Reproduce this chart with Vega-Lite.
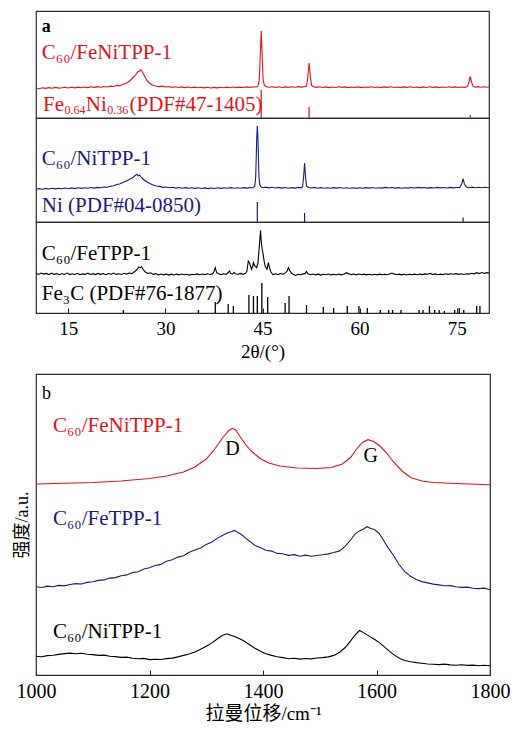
{
  "$schema": "https://vega.github.io/schema/vega-lite/v6.json",
  "padding": {"left": 12, "top": 10, "right": 24, "bottom": 0},
  "background": "white",
  "config": {
    "font": "Liberation Serif",
    "view": {"stroke": "#2a2a2a", "strokeWidth": 1.2},
    "axis": {"grid": false, "domain": false, "tickColor": "#222", "labelColor": "#000", "titleColor": "#000", "labelFont": "Liberation Serif", "titleFont": "Liberation Serif, Noto Sans CJK SC", "titleFontWeight": "normal", "labelFlush": false, "format": "d"}
  },
  "datasets": {
    "feni": [
      {"t":10,"i":30},{"t":10.5,"i":29.3},{"t":11,"i":30.2},{"t":11.5,"i":29.6},{"t":12,"i":30.4},{"t":12.5,"i":29.8},{"t":13,"i":30.6},{"t":13.5,"i":29.9},{"t":14,"i":30.3},{"t":14.5,"i":30.8},{"t":15,"i":30},{"t":15.5,"i":30.7},{"t":16,"i":30.1},{"t":16.5,"i":30.9},{"t":17,"i":30.3},{"t":17.5,"i":31},{"t":18,"i":30.4},{"t":18.5,"i":31.2},{"t":19,"i":30.6},{"t":19.5,"i":31.4},{"t":20,"i":30.8},{"t":20.5,"i":31.5},{"t":21,"i":31},{"t":21.5,"i":31.9},{"t":22,"i":31.5},{"t":22.5,"i":32.6},{"t":23,"i":32.3},{"t":23.5,"i":33.8},{"t":24,"i":35},{"t":24.5,"i":37.2},{"t":25,"i":40.5},{"t":25.4,"i":43},{"t":25.7,"i":46},{"t":26,"i":47},{"t":26.2,"i":48.3},{"t":26.4,"i":46.5},{"t":26.6,"i":44},{"t":26.9,"i":40.5},{"t":27.2,"i":37},{"t":27.6,"i":34.5},{"t":28,"i":33},{"t":28.5,"i":32},{"t":29,"i":31.4},{"t":29.5,"i":31.9},{"t":30,"i":31},{"t":30.5,"i":31.5},{"t":31,"i":30.6},{"t":31.5,"i":31.2},{"t":32,"i":30.5},{"t":32.5,"i":31.1},{"t":33,"i":30.4},{"t":33.5,"i":31},{"t":34,"i":30.3},{"t":34.5,"i":30.9},{"t":35,"i":30.2},{"t":35.5,"i":30.8},{"t":36,"i":30.1},{"t":36.5,"i":30.7},{"t":37,"i":30},{"t":37.5,"i":30.6},{"t":38,"i":30.1},{"t":38.5,"i":30.8},{"t":39,"i":30.2},{"t":39.5,"i":30.9},{"t":40,"i":30.3},{"t":40.5,"i":31},{"t":41,"i":30.4},{"t":41.5,"i":30.9},{"t":42,"i":30.5},{"t":42.5,"i":31.1},{"t":43,"i":30.6},{"t":43.5,"i":31.3},{"t":44,"i":31},{"t":44.3,"i":31.8},{"t":44.5,"i":38},{"t":44.65,"i":62},{"t":44.8,"i":87},{"t":44.95,"i":62},{"t":45.1,"i":38},{"t":45.3,"i":32.5},{"t":45.6,"i":31.2},{"t":46,"i":30.7},{"t":46.5,"i":31.3},{"t":47,"i":30.6},{"t":47.5,"i":31.2},{"t":48,"i":30.5},{"t":48.5,"i":31.1},{"t":49,"i":30.6},{"t":49.5,"i":31.2},{"t":50,"i":30.8},{"t":50.5,"i":31.4},{"t":51,"i":30.9},{"t":51.5,"i":31.4},{"t":51.8,"i":32},{"t":52,"i":41},{"t":52.2,"i":55},{"t":52.4,"i":41},{"t":52.6,"i":32.5},{"t":52.9,"i":31.2},{"t":53.3,"i":30.6},{"t":53.8,"i":31.2},{"t":54.3,"i":30.5},{"t":54.8,"i":31.1},{"t":55.3,"i":30.4},{"t":55.8,"i":31},{"t":56.3,"i":30.5},{"t":56.8,"i":31.2},{"t":57.3,"i":30.6},{"t":57.8,"i":31.1},{"t":58.3,"i":30.4},{"t":58.8,"i":31},{"t":59.3,"i":30.5},{"t":59.8,"i":31.1},{"t":60.3,"i":30.4},{"t":60.8,"i":31},{"t":61.3,"i":30.6},{"t":61.8,"i":31.2},{"t":62.3,"i":30.5},{"t":62.8,"i":31},{"t":63.3,"i":30.4},{"t":63.8,"i":31.1},{"t":64.3,"i":30.6},{"t":64.8,"i":31.2},{"t":65.3,"i":30.5},{"t":65.8,"i":31},{"t":66.3,"i":30.4},{"t":66.8,"i":31.1},{"t":67.3,"i":30.6},{"t":67.8,"i":31.2},{"t":68.3,"i":30.5},{"t":68.8,"i":31},{"t":69.3,"i":30.4},{"t":69.8,"i":31.1},{"t":70.3,"i":30.5},{"t":70.8,"i":31.2},{"t":71.3,"i":30.6},{"t":71.8,"i":31.1},{"t":72.3,"i":30.4},{"t":72.8,"i":31},{"t":73.3,"i":30.5},{"t":73.8,"i":31.2},{"t":74.3,"i":30.6},{"t":74.8,"i":31.1},{"t":75.3,"i":30.5},{"t":75.8,"i":31},{"t":76.3,"i":30.6},{"t":76.7,"i":31.8},{"t":76.9,"i":36},{"t":77.1,"i":41.5},{"t":77.3,"i":36},{"t":77.5,"i":32},{"t":77.8,"i":30.8},{"t":78.3,"i":31.4},{"t":78.8,"i":30.7},{"t":79.3,"i":31.3},{"t":79.7,"i":30.8},{"t":80,"i":31.2}
    ],
    "ni": [
      {"t":10,"i":32.7},{"t":10.5,"i":33.4},{"t":11,"i":32.8},{"t":11.5,"i":33.6},{"t":12,"i":33},{"t":12.5,"i":33.8},{"t":13,"i":33.1},{"t":13.5,"i":33.7},{"t":14,"i":33.2},{"t":14.5,"i":34},{"t":15,"i":33.3},{"t":15.5,"i":34.1},{"t":16,"i":33.4},{"t":16.5,"i":34.2},{"t":17,"i":33.6},{"t":17.5,"i":34.3},{"t":18,"i":33.7},{"t":18.5,"i":34.5},{"t":19,"i":33.9},{"t":19.5,"i":34.6},{"t":20,"i":34.2},{"t":20.5,"i":35},{"t":21,"i":34.7},{"t":21.5,"i":35.8},{"t":22,"i":36.2},{"t":22.5,"i":37.5},{"t":23,"i":38.3},{"t":23.5,"i":39.8},{"t":24,"i":41},{"t":24.5,"i":43},{"t":25,"i":44.5},{"t":25.3,"i":46.5},{"t":25.6,"i":47.7},{"t":25.8,"i":46},{"t":26,"i":47},{"t":26.3,"i":44.5},{"t":26.7,"i":42},{"t":27.1,"i":40.3},{"t":27.6,"i":38.5},{"t":28.1,"i":37},{"t":28.6,"i":36},{"t":29.1,"i":35.6},{"t":29.6,"i":34.6},{"t":30.1,"i":35},{"t":30.6,"i":34.2},{"t":31.1,"i":34.7},{"t":31.6,"i":33.9},{"t":32.1,"i":34.5},{"t":32.6,"i":33.8},{"t":33.1,"i":34.4},{"t":33.6,"i":33.7},{"t":34.1,"i":34.3},{"t":34.6,"i":33.6},{"t":35.1,"i":34.2},{"t":35.6,"i":33.5},{"t":36.1,"i":34.1},{"t":36.6,"i":33.4},{"t":37.1,"i":34},{"t":37.6,"i":33.5},{"t":38.1,"i":34.2},{"t":38.6,"i":33.6},{"t":39.1,"i":34.3},{"t":39.6,"i":33.7},{"t":40.1,"i":34.4},{"t":40.6,"i":33.8},{"t":41.1,"i":34.3},{"t":41.6,"i":33.7},{"t":42.1,"i":34.4},{"t":42.6,"i":33.9},{"t":43.1,"i":34.5},{"t":43.5,"i":34.2},{"t":43.8,"i":35.5},{"t":43.95,"i":45},{"t":44.1,"i":82},{"t":44.2,"i":96},{"t":44.3,"i":82},{"t":44.45,"i":45},{"t":44.6,"i":37},{"t":44.8,"i":35},{"t":45.1,"i":34.3},{"t":45.5,"i":34.9},{"t":46,"i":34.1},{"t":46.5,"i":34.7},{"t":47,"i":34},{"t":47.5,"i":34.6},{"t":48,"i":33.9},{"t":48.5,"i":34.5},{"t":49,"i":33.8},{"t":49.5,"i":34.4},{"t":50,"i":33.9},{"t":50.5,"i":34.6},{"t":51,"i":34.2},{"t":51.2,"i":35.5},{"t":51.35,"i":45},{"t":51.5,"i":59},{"t":51.65,"i":45},{"t":51.8,"i":36},{"t":52.1,"i":34.5},{"t":52.5,"i":34},{"t":53,"i":34.6},{"t":53.5,"i":33.8},{"t":54,"i":34.4},{"t":54.5,"i":33.7},{"t":55,"i":34.3},{"t":55.5,"i":33.8},{"t":56,"i":34.4},{"t":56.5,"i":33.9},{"t":57,"i":34.5},{"t":57.5,"i":33.8},{"t":58,"i":34.3},{"t":58.5,"i":33.7},{"t":59,"i":34.2},{"t":59.5,"i":33.6},{"t":60,"i":34.3},{"t":60.5,"i":33.8},{"t":61,"i":34.4},{"t":61.5,"i":33.9},{"t":62,"i":34.5},{"t":62.5,"i":33.8},{"t":63,"i":34.3},{"t":63.5,"i":33.9},{"t":64,"i":34.6},{"t":64.5,"i":34},{"t":65,"i":34.5},{"t":65.5,"i":33.9},{"t":66,"i":34.4},{"t":66.5,"i":33.8},{"t":67,"i":34.3},{"t":67.5,"i":33.9},{"t":68,"i":34.5},{"t":68.5,"i":34},{"t":69,"i":34.6},{"t":69.5,"i":34.1},{"t":70,"i":34.5},{"t":70.5,"i":33.9},{"t":71,"i":34.4},{"t":71.5,"i":34},{"t":72,"i":34.6},{"t":72.5,"i":34.1},{"t":73,"i":34.5},{"t":73.5,"i":34},{"t":74,"i":34.6},{"t":74.5,"i":34.1},{"t":75,"i":34.5},{"t":75.5,"i":34.6},{"t":75.8,"i":38.5},{"t":76,"i":43.3},{"t":76.2,"i":38},{"t":76.5,"i":35},{"t":76.9,"i":34.3},{"t":77.4,"i":34.9},{"t":77.9,"i":34.2},{"t":78.4,"i":34.8},{"t":78.9,"i":34.3},{"t":79.4,"i":34.7},{"t":80,"i":34.3}
    ],
    "fe": [
      {"t":10,"i":39.7},{"t":10.4,"i":38.5},{"t":10.8,"i":40},{"t":11.2,"i":38.9},{"t":11.6,"i":39.6},{"t":12,"i":38.4},{"t":12.4,"i":39.8},{"t":12.8,"i":38.7},{"t":13.2,"i":39.4},{"t":13.6,"i":38.2},{"t":14,"i":39.5},{"t":14.4,"i":38.6},{"t":14.8,"i":39.9},{"t":15.2,"i":38.4},{"t":15.6,"i":39.2},{"t":16,"i":38.5},{"t":16.4,"i":39.7},{"t":16.8,"i":38.3},{"t":17.2,"i":39.1},{"t":17.6,"i":38.6},{"t":18,"i":39.8},{"t":18.4,"i":38.5},{"t":18.8,"i":39.3},{"t":19.2,"i":38.4},{"t":19.6,"i":39.6},{"t":20,"i":38.7},{"t":20.4,"i":39.4},{"t":20.8,"i":38.3},{"t":21.2,"i":39.5},{"t":21.6,"i":38.8},{"t":22,"i":39.9},{"t":22.4,"i":38.6},{"t":22.8,"i":39.3},{"t":23.2,"i":38.5},{"t":23.6,"i":39.7},{"t":24,"i":38.9},{"t":24.4,"i":40},{"t":24.8,"i":39.4},{"t":25.2,"i":41.2},{"t":25.6,"i":43.5},{"t":25.9,"i":46},{"t":26.1,"i":45.2},{"t":26.3,"i":46.3},{"t":26.6,"i":43},{"t":26.9,"i":41},{"t":27.3,"i":39.5},{"t":27.7,"i":40.2},{"t":28.1,"i":38.6},{"t":28.5,"i":39.4},{"t":28.9,"i":38.2},{"t":29.3,"i":39},{"t":29.7,"i":38.1},{"t":30.1,"i":38.9},{"t":30.5,"i":37.9},{"t":30.9,"i":38.8},{"t":31.3,"i":38},{"t":31.7,"i":38.9},{"t":32.1,"i":38.1},{"t":32.5,"i":39},{"t":32.9,"i":38.2},{"t":33.3,"i":38.8},{"t":33.7,"i":37.9},{"t":34.1,"i":38.7},{"t":34.5,"i":38.2},{"t":34.9,"i":39.1},{"t":35.3,"i":38.3},{"t":35.7,"i":39},{"t":36.1,"i":38.4},{"t":36.5,"i":39.2},{"t":36.9,"i":38.5},{"t":37.3,"i":39.3},{"t":37.5,"i":41.5},{"t":37.7,"i":45.3},{"t":37.9,"i":40.5},{"t":38.2,"i":39.2},{"t":38.6,"i":38.4},{"t":39,"i":39.3},{"t":39.4,"i":38.7},{"t":39.7,"i":40.5},{"t":39.9,"i":42},{"t":40.1,"i":39.5},{"t":40.4,"i":39},{"t":40.6,"i":40.6},{"t":40.8,"i":39.2},{"t":41.2,"i":38.8},{"t":41.6,"i":39.6},{"t":42,"i":38.7},{"t":42.4,"i":39.8},{"t":42.6,"i":42},{"t":42.8,"i":52},{"t":43,"i":50},{"t":43.2,"i":46},{"t":43.3,"i":43.7},{"t":43.5,"i":47},{"t":43.6,"i":50.3},{"t":43.8,"i":47},{"t":44.1,"i":45.3},{"t":44.3,"i":50},{"t":44.45,"i":62},{"t":44.6,"i":74},{"t":44.7,"i":82.7},{"t":44.8,"i":72},{"t":44.95,"i":64},{"t":45.1,"i":58.7},{"t":45.25,"i":52},{"t":45.4,"i":47},{"t":45.7,"i":43.7},{"t":45.9,"i":50.3},{"t":46.1,"i":45},{"t":46.3,"i":41},{"t":46.6,"i":38.5},{"t":47,"i":39.2},{"t":47.4,"i":38.4},{"t":47.8,"i":39.5},{"t":48.2,"i":38.8},{"t":48.6,"i":40.3},{"t":48.8,"i":42},{"t":49,"i":45.3},{"t":49.2,"i":42.5},{"t":49.5,"i":39.7},{"t":49.8,"i":38.6},{"t":50.1,"i":37.5},{"t":50.5,"i":38.7},{"t":50.9,"i":38.2},{"t":51.3,"i":39.1},{"t":51.6,"i":39.6},{"t":51.8,"i":41.5},{"t":52,"i":39.5},{"t":52.4,"i":38.3},{"t":52.8,"i":39},{"t":53.2,"i":38.1},{"t":53.6,"i":38.8},{"t":54,"i":37.9},{"t":54.4,"i":38.7},{"t":54.8,"i":38.2},{"t":55.2,"i":39},{"t":55.6,"i":38.1},{"t":56,"i":38.8},{"t":56.4,"i":38},{"t":56.8,"i":38.9},{"t":57.2,"i":38.2},{"t":57.6,"i":39.1},{"t":58,"i":40.3},{"t":58.3,"i":39.2},{"t":58.7,"i":38.4},{"t":59.1,"i":39},{"t":59.5,"i":38.2},{"t":59.9,"i":39},{"t":60.3,"i":38.3},{"t":60.7,"i":38.9},{"t":61.1,"i":38.1},{"t":61.5,"i":38.8},{"t":61.9,"i":38},{"t":62.3,"i":38.7},{"t":62.7,"i":38.1},{"t":63.1,"i":38.9},{"t":63.5,"i":38.2},{"t":63.9,"i":38.8},{"t":64.3,"i":38.3},{"t":64.7,"i":39.3},{"t":65,"i":40},{"t":65.3,"i":39.1},{"t":65.7,"i":38.3},{"t":66.1,"i":38.9},{"t":66.5,"i":38.1},{"t":66.9,"i":38.8},{"t":67.3,"i":38},{"t":67.7,"i":38.7},{"t":68.1,"i":38.2},{"t":68.5,"i":38.9},{"t":68.9,"i":38.3},{"t":69.3,"i":39},{"t":69.7,"i":38.4},{"t":70.1,"i":39.1},{"t":70.5,"i":38.8},{"t":70.9,"i":39.6},{"t":71.3,"i":38.5},{"t":71.7,"i":39.1},{"t":72.1,"i":38.3},{"t":72.5,"i":38.9},{"t":72.9,"i":38.4},{"t":73.3,"i":39.2},{"t":73.7,"i":38.6},{"t":74.1,"i":39.3},{"t":74.5,"i":38.7},{"t":74.9,"i":39.4},{"t":75.3,"i":38.6},{"t":75.7,"i":39.2},{"t":76.1,"i":38.5},{"t":76.5,"i":39.3},{"t":76.9,"i":38.9},{"t":77.3,"i":39.8},{"t":77.7,"i":39.2},{"t":78.1,"i":40.3},{"t":78.5,"i":39.4},{"t":78.9,"i":40.5},{"t":79.3,"i":39.6},{"t":79.7,"i":40.4},{"t":80,"i":39.8}
    ],
    "pdf_feni": [{"t":44.8,"h":28},{"t":52.2,"h":11},{"t":77.1,"h":3}],
    "pdf_ni": [{"t":44.2,"h":20},{"t":51.5,"h":9},{"t":76.0,"h":4.5}],
    "pdf_fe3c": [
      {"t":23.5,"h":3},{"t":35.1,"h":3},{"t":37.7,"h":11},{"t":39.7,"h":9},{"t":40.5,"h":7},{"t":42.9,"h":18},{"t":43.6,"h":17},{"t":44.2,"h":17},{"t":44.9,"h":30},{"t":45.8,"h":16},{"t":48.5,"h":10},{"t":49.1,"h":17},{"t":51.8,"h":8},{"t":54.4,"h":6},{"t":56.0,"h":5},{"t":58.1,"h":7},{"t":59.9,"h":7},{"t":61.2,"h":5},{"t":63.2,"h":3},{"t":64.5,"h":3},{"t":65.1,"h":3},{"t":66.4,"h":3},{"t":69.2,"h":3},{"t":69.8,"h":3},{"t":70.8,"h":7},{"t":71.6,"h":3},{"t":72.3,"h":3},{"t":73.1,"h":2},{"t":74.7,"h":3},{"t":75.4,"h":5},{"t":76.1,"h":3},{"t":78.1,"h":7},{"t":78.6,"h":7}
    ],
    "feni_label": [
      {"t":11.1,"i":7,"txt":"Fe","sz":21},{"t":14.4,"i":4,"txt":"0.64","sz":12},{"t":17.7,"i":7,"txt":"Ni","sz":21},{"t":21.0,"i":4,"txt":"0.36","sz":12},{"t":24.45,"i":7,"txt":"(PDF#47-1405)","sz":21}
    ],
    "raman": [
      {"s":"FeNi","w":1000,"i":191},{"s":"FeNi","w":1050,"i":191.8},{"s":"FeNi","w":1100,"i":192.5},{"s":"FeNi","w":1150,"i":194},{"s":"FeNi","w":1200,"i":196.5},{"s":"FeNi","w":1230,"i":199},{"s":"FeNi","w":1260,"i":203},{"s":"FeNi","w":1280,"i":208},{"s":"FeNi","w":1300,"i":216},{"s":"FeNi","w":1315,"i":226},{"s":"FeNi","w":1330,"i":238},{"s":"FeNi","w":1340,"i":244.5},{"s":"FeNi","w":1346,"i":246.7},{"s":"FeNi","w":1352,"i":245},{"s":"FeNi","w":1360,"i":238},{"s":"FeNi","w":1370,"i":230},{"s":"FeNi","w":1380,"i":223.5},{"s":"FeNi","w":1395,"i":216.5},{"s":"FeNi","w":1410,"i":212},{"s":"FeNi","w":1430,"i":209},{"s":"FeNi","w":1460,"i":207},{"s":"FeNi","w":1495,"i":206.5},{"s":"FeNi","w":1520,"i":207.5},{"s":"FeNi","w":1540,"i":211},{"s":"FeNi","w":1555,"i":218},{"s":"FeNi","w":1565,"i":226},{"s":"FeNi","w":1575,"i":232.5},{"s":"FeNi","w":1585,"i":235.3},{"s":"FeNi","w":1595,"i":233.5},{"s":"FeNi","w":1606,"i":229},{"s":"FeNi","w":1618,"i":222},{"s":"FeNi","w":1630,"i":213},{"s":"FeNi","w":1645,"i":204},{"s":"FeNi","w":1660,"i":197.5},{"s":"FeNi","w":1680,"i":194},{"s":"FeNi","w":1700,"i":192.5},{"s":"FeNi","w":1750,"i":191.2},{"s":"FeNi","w":1800,"i":190.3},
      {"s":"Fe","w":1000,"i":88.2},{"s":"Fe","w":1010,"i":87.5},{"s":"Fe","w":1020,"i":88.9},{"s":"Fe","w":1030,"i":88.3},{"s":"Fe","w":1040,"i":89.6},{"s":"Fe","w":1050,"i":89.1},{"s":"Fe","w":1060,"i":90.5},{"s":"Fe","w":1070,"i":91.4},{"s":"Fe","w":1080,"i":91},{"s":"Fe","w":1090,"i":92.6},{"s":"Fe","w":1100,"i":93.2},{"s":"Fe","w":1110,"i":94.6},{"s":"Fe","w":1120,"i":95.1},{"s":"Fe","w":1130,"i":96.9},{"s":"Fe","w":1140,"i":97.4},{"s":"Fe","w":1150,"i":99.3},{"s":"Fe","w":1160,"i":100.1},{"s":"Fe","w":1170,"i":102.4},{"s":"Fe","w":1180,"i":103.2},{"s":"Fe","w":1190,"i":106},{"s":"Fe","w":1200,"i":107.3},{"s":"Fe","w":1210,"i":109.5},{"s":"Fe","w":1220,"i":110.6},{"s":"Fe","w":1230,"i":113.8},{"s":"Fe","w":1240,"i":115.2},{"s":"Fe","w":1250,"i":117.9},{"s":"Fe","w":1260,"i":119.3},{"s":"Fe","w":1270,"i":122.8},{"s":"Fe","w":1280,"i":125},{"s":"Fe","w":1290,"i":127.1},{"s":"Fe","w":1300,"i":130.6},{"s":"Fe","w":1310,"i":133},{"s":"Fe","w":1320,"i":136.9},{"s":"Fe","w":1330,"i":140.1},{"s":"Fe","w":1338,"i":142.2},{"s":"Fe","w":1345,"i":143.4},{"s":"Fe","w":1350,"i":144.6},{"s":"Fe","w":1355,"i":142.8},{"s":"Fe","w":1362,"i":140.5},{"s":"Fe","w":1370,"i":136.6},{"s":"Fe","w":1378,"i":133.1},{"s":"Fe","w":1386,"i":129.6},{"s":"Fe","w":1395,"i":127.4},{"s":"Fe","w":1405,"i":124.8},{"s":"Fe","w":1415,"i":123.9},{"s":"Fe","w":1425,"i":121.6},{"s":"Fe","w":1435,"i":121.2},{"s":"Fe","w":1445,"i":119.6},{"s":"Fe","w":1455,"i":120.4},{"s":"Fe","w":1465,"i":118.8},{"s":"Fe","w":1475,"i":119.9},{"s":"Fe","w":1485,"i":118.7},{"s":"Fe","w":1495,"i":119.5},{"s":"Fe","w":1505,"i":120.2},{"s":"Fe","w":1515,"i":121.1},{"s":"Fe","w":1525,"i":122.5},{"s":"Fe","w":1535,"i":124.1},{"s":"Fe","w":1545,"i":128.9},{"s":"Fe","w":1555,"i":135.5},{"s":"Fe","w":1562,"i":140.9},{"s":"Fe","w":1570,"i":144.1},{"s":"Fe","w":1578,"i":146.2},{"s":"Fe","w":1583,"i":148.3},{"s":"Fe","w":1590,"i":146.5},{"s":"Fe","w":1597,"i":145.2},{"s":"Fe","w":1605,"i":141.4},{"s":"Fe","w":1612,"i":135},{"s":"Fe","w":1620,"i":127.6},{"s":"Fe","w":1630,"i":119.5},{"s":"Fe","w":1640,"i":110.2},{"s":"Fe","w":1650,"i":103.4},{"s":"Fe","w":1660,"i":98.7},{"s":"Fe","w":1670,"i":95.6},{"s":"Fe","w":1680,"i":93.4},{"s":"Fe","w":1690,"i":92.1},{"s":"Fe","w":1700,"i":90.9},{"s":"Fe","w":1710,"i":90.1},{"s":"Fe","w":1720,"i":89.2},{"s":"Fe","w":1730,"i":89.4},{"s":"Fe","w":1740,"i":88.2},{"s":"Fe","w":1750,"i":87.6},{"s":"Fe","w":1760,"i":87.9},{"s":"Fe","w":1770,"i":86.8},{"s":"Fe","w":1780,"i":86.4},{"s":"Fe","w":1790,"i":86.9},{"s":"Fe","w":1800,"i":85.3},
      {"s":"Ni","w":1000,"i":18.7},{"s":"Ni","w":1010,"i":18.3},{"s":"Ni","w":1020,"i":19.4},{"s":"Ni","w":1030,"i":19.8},{"s":"Ni","w":1040,"i":20.6},{"s":"Ni","w":1050,"i":21.4},{"s":"Ni","w":1060,"i":21.9},{"s":"Ni","w":1070,"i":21.2},{"s":"Ni","w":1080,"i":21.8},{"s":"Ni","w":1090,"i":20.7},{"s":"Ni","w":1100,"i":20.4},{"s":"Ni","w":1110,"i":19.6},{"s":"Ni","w":1120,"i":19.9},{"s":"Ni","w":1130,"i":18.7},{"s":"Ni","w":1140,"i":18.4},{"s":"Ni","w":1150,"i":17.6},{"s":"Ni","w":1160,"i":17.9},{"s":"Ni","w":1170,"i":16.8},{"s":"Ni","w":1180,"i":16.2},{"s":"Ni","w":1190,"i":16.6},{"s":"Ni","w":1200,"i":15.4},{"s":"Ni","w":1210,"i":15.8},{"s":"Ni","w":1220,"i":15.5},{"s":"Ni","w":1230,"i":16.4},{"s":"Ni","w":1240,"i":16.9},{"s":"Ni","w":1250,"i":18.1},{"s":"Ni","w":1260,"i":19.6},{"s":"Ni","w":1270,"i":21},{"s":"Ni","w":1280,"i":23.1},{"s":"Ni","w":1290,"i":25.8},{"s":"Ni","w":1300,"i":28.8},{"s":"Ni","w":1310,"i":32.1},{"s":"Ni","w":1320,"i":36.2},{"s":"Ni","w":1328,"i":39.5},{"s":"Ni","w":1336,"i":41.2},{"s":"Ni","w":1343,"i":39.8},{"s":"Ni","w":1350,"i":38.6},{"s":"Ni","w":1358,"i":36.6},{"s":"Ni","w":1365,"i":34.5},{"s":"Ni","w":1375,"i":30.8},{"s":"Ni","w":1385,"i":27},{"s":"Ni","w":1395,"i":23.9},{"s":"Ni","w":1405,"i":21.3},{"s":"Ni","w":1415,"i":19.6},{"s":"Ni","w":1425,"i":18.2},{"s":"Ni","w":1435,"i":17.4},{"s":"Ni","w":1445,"i":16.3},{"s":"Ni","w":1455,"i":16.8},{"s":"Ni","w":1465,"i":15.9},{"s":"Ni","w":1475,"i":16.5},{"s":"Ni","w":1485,"i":16.1},{"s":"Ni","w":1495,"i":17},{"s":"Ni","w":1505,"i":17.4},{"s":"Ni","w":1515,"i":18.1},{"s":"Ni","w":1525,"i":19.6},{"s":"Ni","w":1535,"i":22.8},{"s":"Ni","w":1545,"i":27.5},{"s":"Ni","w":1553,"i":33.2},{"s":"Ni","w":1560,"i":38.4},{"s":"Ni","w":1566,"i":42.1},{"s":"Ni","w":1570,"i":44.5},{"s":"Ni","w":1575,"i":43.1},{"s":"Ni","w":1582,"i":40.6},{"s":"Ni","w":1590,"i":37.9},{"s":"Ni","w":1597,"i":35.5},{"s":"Ni","w":1605,"i":32.4},{"s":"Ni","w":1612,"i":29.1},{"s":"Ni","w":1620,"i":25.2},{"s":"Ni","w":1628,"i":21.4},{"s":"Ni","w":1635,"i":18.6},{"s":"Ni","w":1642,"i":16.2},{"s":"Ni","w":1650,"i":14.5},{"s":"Ni","w":1660,"i":13.2},{"s":"Ni","w":1670,"i":12.4},{"s":"Ni","w":1680,"i":11.8},{"s":"Ni","w":1690,"i":11},{"s":"Ni","w":1700,"i":10.8},{"s":"Ni","w":1710,"i":10.4},{"s":"Ni","w":1720,"i":10.9},{"s":"Ni","w":1730,"i":10.1},{"s":"Ni","w":1740,"i":9.8},{"s":"Ni","w":1750,"i":10.3},{"s":"Ni","w":1760,"i":9.6},{"s":"Ni","w":1770,"i":9.9},{"s":"Ni","w":1780,"i":9.3},{"s":"Ni","w":1790,"i":9.7},{"s":"Ni","w":1800,"i":9.3}
    ]
  },
  "spacing": 11,
  "vconcat": [
    {
      "spacing": 0,
      "bounds": "flush",
      "vconcat": [
        {
          "width": 453, "height": 107,
          "layer": [
            {"data": {"name": "feni"}, "mark": {"type": "line", "color": "#e2131b", "strokeWidth": 1.1},
             "encoding": {"x": {"field": "t", "type": "quantitative", "scale": {"domain": [10, 80], "nice": false, "zero": false}, "axis": null},
                          "y": {"field": "i", "type": "quantitative", "scale": {"domain": [0, 107], "nice": false, "zero": false}, "axis": null}}},
            {"data": {"name": "pdf_feni"}, "mark": {"type": "rule", "color": "#e2131b", "strokeWidth": 1.2},
             "encoding": {"x": {"field": "t", "type": "quantitative"}, "y": {"field": "h", "type": "quantitative"}, "y2": {"datum": 0}}},
            {"data": {"values": [{}]}, "mark": {"type": "text", "align": "left", "baseline": "middle", "fontSize": 18, "fontWeight": "bold", "color": "#000", "font": "Liberation Serif"},
             "encoding": {"x": {"datum": 10.9}, "y": {"datum": 91}, "text": {"value": "a"}}},
            {"data": {"values": [{}]}, "mark": {"type": "text", "align": "left", "baseline": "middle", "fontSize": 21, "color": "#e2131b", "font": "Liberation Serif"},
             "encoding": {"x": {"datum": 10.9}, "y": {"datum": 65}, "text": {"value": "C₆₀/FeNiTPP-1"}}},
            {"data": {"name": "feni_label"}, "mark": {"type": "text", "align": "left", "baseline": "alphabetic", "color": "#e2131b", "font": "Liberation Serif"},
             "encoding": {"x": {"field": "t", "type": "quantitative"}, "y": {"field": "i", "type": "quantitative"}, "text": {"field": "txt"}, "size": {"field": "sz", "type": "quantitative", "scale": null}}}
          ]
        },
        {
          "width": 453, "height": 104,
          "layer": [
            {"data": {"name": "ni"}, "mark": {"type": "line", "color": "#1b1a7d", "strokeWidth": 1.1},
             "encoding": {"x": {"field": "t", "type": "quantitative", "scale": {"domain": [10, 80], "nice": false, "zero": false}, "axis": null},
                          "y": {"field": "i", "type": "quantitative", "scale": {"domain": [0, 104], "nice": false, "zero": false}, "axis": null}}},
            {"data": {"name": "pdf_ni"}, "mark": {"type": "rule", "color": "#1b1a7d", "strokeWidth": 1.2},
             "encoding": {"x": {"field": "t", "type": "quantitative"}, "y": {"field": "h", "type": "quantitative"}, "y2": {"datum": 0}}},
            {"data": {"values": [{}]}, "mark": {"type": "text", "align": "left", "baseline": "middle", "fontSize": 21, "color": "#1b1a7d", "font": "Liberation Serif"},
             "encoding": {"x": {"datum": 10.9}, "y": {"datum": 63}, "text": {"value": "C₆₀/NiTPP-1"}}},
            {"data": {"values": [{}]}, "mark": {"type": "text", "align": "left", "baseline": "middle", "fontSize": 21, "color": "#1b1a7d", "font": "Liberation Serif"},
             "encoding": {"x": {"datum": 10.9}, "y": {"datum": 16}, "text": {"value": "Ni (PDF#04-0850)"}}}
          ]
        },
        {
          "width": 453, "height": 91,
          "layer": [
            {"data": {"name": "fe"}, "mark": {"type": "line", "color": "#000", "strokeWidth": 1.1},
             "encoding": {"x": {"field": "t", "type": "quantitative", "scale": {"domain": [10, 80], "nice": false, "zero": false},
                                "axis": {"values": [15, 30, 45, 60, 75], "tickSize": -5, "labelPadding": 11, "labelFontSize": 19, "title": "2θ/(°)", "titleFontSize": 19, "titlePadding": 4}},
                          "y": {"field": "i", "type": "quantitative", "scale": {"domain": [0, 91], "nice": false, "zero": false}, "axis": null}}},
            {"data": {"name": "pdf_fe3c"}, "mark": {"type": "rule", "color": "#000", "strokeWidth": 1.3},
             "encoding": {"x": {"field": "t", "type": "quantitative"}, "y": {"field": "h", "type": "quantitative"}, "y2": {"datum": 0}}},
            {"data": {"values": [{}]}, "mark": {"type": "text", "align": "left", "baseline": "middle", "fontSize": 21, "color": "#000", "font": "Liberation Serif"},
             "encoding": {"x": {"datum": 10.9}, "y": {"datum": 59}, "text": {"value": "C₆₀/FeTPP-1"}}},
            {"data": {"values": [{}]}, "mark": {"type": "text", "align": "left", "baseline": "middle", "fontSize": 21, "color": "#000", "font": "Liberation Serif"},
             "encoding": {"x": {"datum": 10.9}, "y": {"datum": 19}, "text": {"value": "Fe₃C (PDF#76-1877)"}}}
          ]
        }
      ]
    },
    {
      "width": 454, "height": 301,
      "layer": [
        {"data": {"name": "raman"}, "mark": {"type": "line", "strokeWidth": 1.1},
         "encoding": {
           "x": {"field": "w", "type": "quantitative", "scale": {"domain": [1000, 1800], "nice": false, "zero": false},
                 "axis": {"values": [1000, 1200, 1400, 1600, 1800], "tickSize": -5, "labelPadding": 11, "labelFontSize": 20, "title": "拉曼位移/cm⁻¹", "titleFontSize": 19, "titlePadding": 3}},
           "y": {"field": "i", "type": "quantitative", "scale": {"domain": [0, 301], "nice": false, "zero": false},
                 "axis": {"title": "强度/a.u.", "labels": false, "ticks": false, "titleFontSize": 18, "titlePadding": 5}},
           "color": {"field": "s", "type": "nominal", "scale": {"domain": ["FeNi", "Fe", "Ni"], "range": ["#e2131b", "#1b1a7d", "#000000"]}, "legend": null}
         }},
        {"data": {"values": [{}]}, "mark": {"type": "text", "align": "left", "baseline": "middle", "fontSize": 18, "color": "#000", "font": "Liberation Serif"},
         "encoding": {"x": {"datum": 1010.6}, "y": {"datum": 281}, "text": {"value": "b"}}},
        {"data": {"values": [{}]}, "mark": {"type": "text", "align": "left", "baseline": "middle", "fontSize": 21, "color": "#e2131b", "font": "Liberation Serif"},
         "encoding": {"x": {"datum": 1030}, "y": {"datum": 249}, "text": {"value": "C₆₀/FeNiTPP-1"}}},
        {"data": {"values": [{}]}, "mark": {"type": "text", "align": "left", "baseline": "middle", "fontSize": 21, "color": "#1b1a7d", "font": "Liberation Serif"},
         "encoding": {"x": {"datum": 1030}, "y": {"datum": 156}, "text": {"value": "C₆₀/FeTPP-1"}}},
        {"data": {"values": [{}]}, "mark": {"type": "text", "align": "left", "baseline": "middle", "fontSize": 21, "color": "#000", "font": "Liberation Serif"},
         "encoding": {"x": {"datum": 1030}, "y": {"datum": 43}, "text": {"value": "C₆₀/NiTPP-1"}}},
        {"data": {"values": [{}]}, "mark": {"type": "text", "align": "center", "baseline": "middle", "fontSize": 20, "color": "#000", "font": "Liberation Serif"},
         "encoding": {"x": {"datum": 1346}, "y": {"datum": 226}, "text": {"value": "D"}}},
        {"data": {"values": [{}]}, "mark": {"type": "text", "align": "center", "baseline": "middle", "fontSize": 20, "color": "#000", "font": "Liberation Serif"},
         "encoding": {"x": {"datum": 1590}, "y": {"datum": 219}, "text": {"value": "G"}}}
      ]
    }
  ]
}
